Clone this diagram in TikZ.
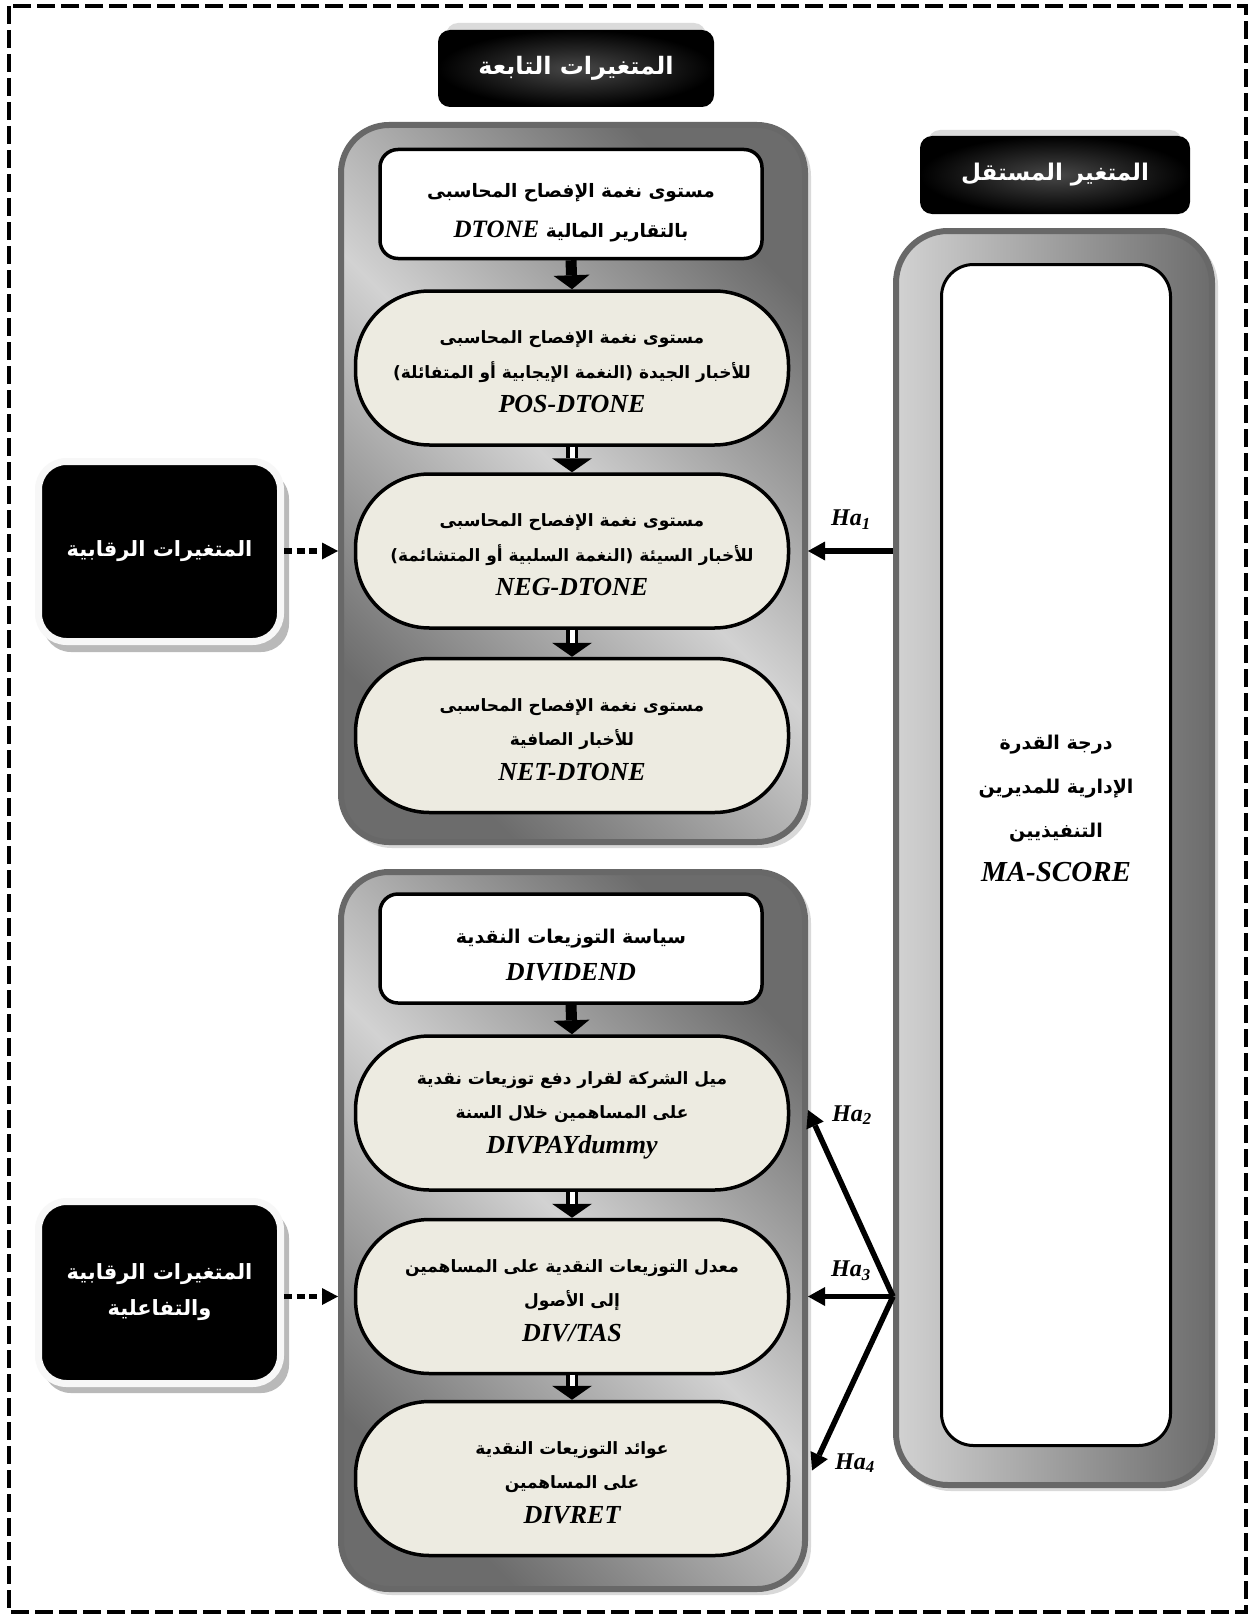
\documentclass[tikz,border=0pt]{standalone}
\usepackage{fontspec}
\setmainfont{Liberation Serif}
\newfontfamily\arabicfont[Script=Arabic]{DejaVu Sans}
\TeXXeTstate=1
\usetikzlibrary{arrows.meta,shadows,calc}
\definecolor{pillfill}{RGB}{237,235,225}
\definecolor{rimgray}{RGB}{104,104,104}
\definecolor{darkg}{RGB}{108,108,108}
\definecolor{lightg}{RGB}{210,210,210}
\newcommand\AR[1]{\beginR#1\endR}
\newcommand\LT[2][26]{{\rmfamily\bfseries\itshape\fontsize{#1}{#1}\selectfont #2}}
\begin{document}
\begin{tikzpicture}[x=1pt,y=-1pt,
  frame/.style={rectangle, rounded corners=48pt, draw=rimgray, line width=6pt,
    top color=darkg, bottom color=darkg, middle color=lightg, shading angle=-45,
    inner sep=0pt},
  topbox/.style={rectangle, rounded corners=18pt, draw=black, line width=3.5pt, fill=white,
    inner sep=0pt, minimum width=382pt, minimum height=109pt},
  boxtext/.style={align=center, inner sep=0pt,
    font=\arabicfont\bfseries\fontsize{18.5}{40}\selectfont},
  pill/.style={rectangle, rounded corners=74pt, draw=black, line width=3.5pt, fill=pillfill,
    align=center, inner sep=0pt, minimum width=433pt, minimum height=154pt,
    font=\arabicfont\bfseries\fontsize{17}{35}\selectfont},
  pilltext/.style={align=center, inner sep=0pt,
    font=\arabicfont\bfseries\fontsize{17}{34.5}\selectfont},
  header/.style={rectangle, rounded corners=12pt, inner color=black!72!white, outer color=black,
    text=white, inner sep=0pt, font=\arabicfont\bfseries\fontsize{24}{30}\selectfont},
  ctrl/.style={rectangle, rounded corners=28pt, fill=black, draw=gray!6, line width=7pt,
    text=white, align=center, inner sep=0pt, minimum width=242pt,
    font=\arabicfont\bfseries\fontsize{21}{36}\selectfont},
  solidarr/.style={line width=11pt, -{Triangle[width=36pt,length=14pt,line width=0pt]}},
  hollowout/.style={line width=12pt, -{Triangle[width=40pt,length=14pt,line width=0pt]}},
  hollowin/.style={line width=5pt, white, shorten >=14pt},
  harr/.style={line width=5.5pt, -{Triangle[width=19pt,length=17pt,line width=0pt]}},
  dotarr/.style={line width=5.5pt, dash pattern=on 8pt off 4.5pt,
    -{Triangle[width=17pt,length=16pt,line width=0pt]}},
  halbl/.style={inner sep=0pt, font=\rmfamily\bfseries\itshape\fontsize{24}{24}\selectfont}
]
\useasboundingbox (0,0) rectangle (1253,1616);
\fill[white] (0,0) rectangle (1253,1616);
\draw[line width=4pt, dash pattern=on 18pt off 6pt] (9,6) rectangle (1246,1612);

% shadows of frames
\fill[gray!30, rounded corners=48pt] (344,128) rectangle (811,848);
\fill[gray!30, rounded corners=48pt] (344,875) rectangle (811,1595);
\fill[gray!30, rounded corners=52pt] (899,234) rectangle (1218,1491);

% containers
\node[frame, minimum width=464pt, minimum height=717pt] (c1) at (573,483.5) {};
\node[frame, minimum width=464pt, minimum height=717pt] (c2) at (573,1230.5) {};
\node[rectangle, rounded corners=52pt, draw=rimgray, line width=6pt, inner sep=0pt,
  left color=lightg, right color=darkg, minimum width=316pt, minimum height=1254pt] (rc) at (1054,858) {};
\node[rectangle, draw=black, line width=3pt, fill=white, rounded corners=32pt,
  minimum width=229pt, minimum height=1181pt] (ri) at (1056,855) {};

% headers
\fill[gray!28, rounded corners=12pt] (446,23) rectangle (706,100);
\node[header, minimum width=276pt, minimum height=77pt] (h1) at (576,68.5) {\AR{المتغيرات التابعة}};
\fill[gray!28, rounded corners=12pt] (928,130) rectangle (1182,205);
\node[header, minimum width=270pt, minimum height=78pt, font=\arabicfont\bfseries\fontsize{23}{30}\selectfont] (h2) at (1055,175) {\AR{المتغير المستقل}};

% dependent variables, group 1
\node[topbox] (dtone) at (571,204) {};
\node[boxtext] (dtonetxt) at ($(dtone.center)+(0,9)$) {\AR{مستوى نغمة الإفصاح المحاسبى}\\
  \AR{بالتقارير المالية \beginL\LT[25]{DTONE}\endL}};
\node[pill] (pos) at (572,368) {};
\node[pilltext] (postxt) at ($(pos.center)+(0,4)$) {\AR{مستوى نغمة الإفصاح المحاسبى}\\
  \AR{للأخبار الجيدة (النغمة الإيجابية أو المتفائلة)}\\ \LT{POS-DTONE}};
\node[pill] (neg) at (572,551) {};
\node[pilltext] (negtxt) at ($(neg.center)+(0,4)$) {\AR{مستوى نغمة الإفصاح المحاسبى}\\
  \AR{للأخبار السيئة (النغمة السلبية أو المتشائمة)}\\ \LT{NEG-DTONE}};
\node[pill] (net) at (572,735.5) {};
\node[pilltext] (nettxt) at ($(net.center)+(0,4)$) {\AR{مستوى نغمة الإفصاح المحاسبى}\\
  \AR{للأخبار الصافية}\\ \LT{NET-DTONE}};

% dependent variables, group 2
\node[topbox] (divd) at (571,948.5) {};
\node[boxtext, font=\arabicfont\bfseries\fontsize{19}{37}\selectfont] (divdtxt) at ($(divd.center)+(0,6)$)
  {\AR{سياسة التوزيعات النقدية}\\ \LT[26]{DIVIDEND}};
\node[pill] (divpay) at (572,1113) {};
\node[pilltext] (divpaytxt) at ($(divpay.center)+(0,2)$) {\AR{ميل الشركة لقرار دفع توزيعات نقدية}\\
  \AR{على المساهمين خلال السنة}\\ \LT{DIVPAYdummy}};
\node[pill] (divtas) at (572,1296.5) {};
\node[pilltext] (divtastxt) at ($(divtas.center)+(0,4)$) {\AR{معدل التوزيعات النقدية على المساهمين}\\
  \AR{إلى الأصول}\\ \LT{DIV/TAS}};
\node[pill] (divret) at (572,1478.5) {};
\node[pilltext] (divrettxt) at ($(divret.center)+(0,4)$) {\AR{عوائد التوزيعات النقدية}\\
  \AR{على المساهمين}\\ \LT{DIVRET}};

% arrows inside groups
\draw[solidarr] (dtone.south) -- (pos.north);
\draw[solidarr] (divd.south) -- (divpay.north);
\draw[hollowout] (pos.south) -- (neg.north);
\draw[hollowin] (pos.south) -- (neg.north);
\draw[hollowout] (neg.south) -- (net.north);
\draw[hollowin] (neg.south) -- (net.north);
\draw[hollowout] (divpay.south) -- (divtas.north);
\draw[hollowin] (divpay.south) -- (divtas.north);
\draw[hollowout] (divtas.south) -- (divret.north);
\draw[hollowin] (divtas.south) -- (divret.north);

% control boxes
\fill[gray!55, rounded corners=28pt] (43,471) rectangle (289,652);
\node[ctrl, minimum height=180pt] (ctrl1) at (159.5,551.5) {\AR{المتغيرات الرقابية}};
\fill[gray!55, rounded corners=28pt] (43,1210) rectangle (289,1393);
\node[ctrl, minimum height=182pt] (ctrl2) at (159.5,1292.5) {\AR{المتغيرات الرقابية}\\ \AR{والتفاعلية}};

\draw[dotarr] (ctrl1.east |- neg.center) -- (c1.west |- neg.center);
\draw[dotarr] (ctrl2.east |- divtas.center) -- (c2.west |- divtas.center);

% independent variable text
\node[align=center, inner sep=0pt, font=\arabicfont\bfseries\fontsize{19}{44}\selectfont] (ma) at (1056,808)
  {\AR{درجة القدرة}\\ \AR{الإدارية للمديرين}\\ \AR{التنفيذيين}\\ \LT[29]{MA-SCORE}};

% hypotheses arrows
\coordinate (o1) at (rc.west |- neg.center);
\draw[harr] (o1) -- (c1.east |- neg.center);
\coordinate (o2) at (rc.west |- divtas.center);
\draw[harr] (o2) -- ($(c2.east |- divpay.center)+(0,-3)$);
\draw[harr] (o2) -- (c2.east |- divtas.center);
\draw[harr] (o2) -- ($(c2.east |- divret.center)+(4,-8)$);

\node[halbl] (ha1) at (851,520) {Ha\textsubscript{1}};
\node[halbl] (ha2) at (852,1115) {Ha\textsubscript{2}};
\node[halbl] (ha3) at (851,1271) {Ha\textsubscript{3}};
\node[halbl] (ha4) at (855,1463) {Ha\textsubscript{4}};
\end{tikzpicture}
\end{document}
